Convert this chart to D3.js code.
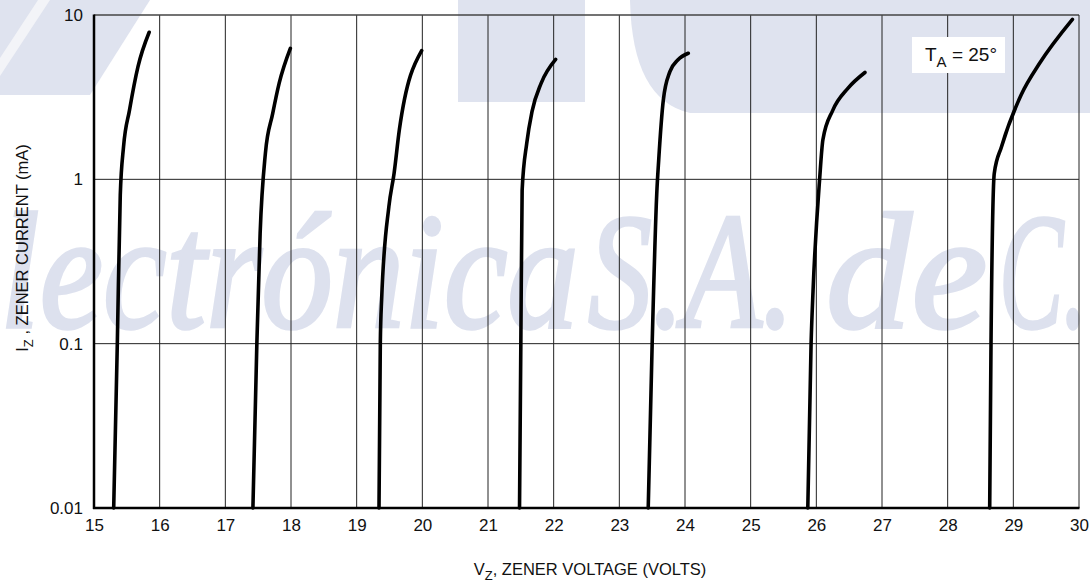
<!DOCTYPE html>
<html>
<head>
<meta charset="utf-8">
<script src="https://cdn.jsdelivr.net/npm/d3@7"></script>
<style>
  html, body { margin: 0; padding: 0; background: #fff; }
  svg { display: block; }
  text { font-family: "Liberation Sans", Arial, sans-serif; fill: #111; }
</style>
</head>
<body>
<svg id="chart" width="1090" height="584"></svg>
<script>
// ---- data ----
const xTicks = [15, 16, 17, 18, 19, 20, 21, 22, 23, 24, 25, 26, 27, 28, 29, 30];
const yTicks = [0.01, 0.1, 1, 10];
const yTickLabels = ["0.01", "0.1", "1", "10"];

const vz15 = [15.30, 15.355, 15.40, 15.45, 15.54, 15.67, 15.84];
const iz15 = [0.01, 0.1, 0.80, 1.58, 2.63, 4.85, 7.85];
const vz18 = [17.42, 17.48, 17.53, 17.61, 17.72, 17.82, 17.99];
const iz18 = [0.01, 0.1, 0.47, 1.44, 2.5, 3.85, 6.27];
const vz20 = [19.34, 19.36, 19.38, 19.49, 19.57, 19.65, 19.99];
const iz20 = [0.01, 0.1, 0.185, 0.68, 1.09, 2.0, 6.07];
const vz22 = [21.48, 21.50, 21.52, 21.59, 21.67, 21.81, 22.03];
const iz22 = [0.01, 0.1, 0.86, 1.66, 2.58, 3.85, 5.37];
const vz24 = [23.44, 23.50, 23.57, 23.60, 23.67, 23.77, 23.89, 24.05];
const iz24 = [0.01, 0.1, 0.82, 1.32, 3.04, 4.52, 5.32, 5.85];
const vz27 = [25.87, 25.92, 25.95, 26.05, 26.10, 26.25, 26.48, 26.74];
const iz27 = [0.01, 0.1, 0.21, 1.0, 1.74, 2.63, 3.58, 4.47];
const vz30 = [28.64, 28.66, 28.71, 28.82, 29.12, 29.40, 29.90];
const iz30 = [0.01, 0.1, 1.09, 1.58, 3.27, 5.08, 9.4];

const curves = [[vz15, iz15], [vz18, iz18], [vz20, iz20], [vz22, iz22], [vz24, iz24], [vz27, iz27], [vz30, iz30]]
  .map(([v, i]) => v.map((d, k) => ({ v: d, i: i[k] })));

const watermarkWords = ["lectrónica", "S.A.", "de", "C."];
const annotation = { main: "T", sub: "A", rest: " = 25°" };

// ---- layout ----
const svg = d3.select("#chart");
const W = 1090, H = 584;
const m = { left: 94, right: 11, top: 15, bottom: 76 };
const x = d3.scaleLinear().domain([15, 30]).range([m.left, W - m.right]);
const y = d3.scaleLog().domain([0.01, 10]).range([H - m.bottom, m.top]);

// ---- background watermark ----
const wm = svg.append("g").attr("fill", "#dfe3ef");
wm.append("path").attr("d", "M0,0 L150,0 L90,95 L0,95 Z");
wm.append("path").attr("d", "M0,58 L38,0 L50,0 L0,76 Z").attr("fill", "#f3f4f8");
wm.append("rect").attr("x", 458).attr("y", 0).attr("width", 127).attr("height", 102);
wm.append("path").attr("d", "M630,0 L1090,0 L1090,113 L690,113 Q632,100 630,0 Z");

// word placement: [left x, horizontal squeeze]
const wmPos = [[0, 0.86], [588, 0.77], [826, 1.03], [999, 0.58]];
const wmText = svg.append("g");
watermarkWords.forEach((w, k) => {
  wmText.append("text")
    .attr("transform", `translate(${wmPos[k][0]},327) scale(${wmPos[k][1]},1)`)
    .attr("font-size", 166)
    .style("font-family", "'Liberation Serif', 'Times New Roman', serif")
    .style("font-style", "italic")
    .style("fill", "#dde1ee")
    .style("stroke", "#dde1ee")
    .style("stroke-width", 3.5)
    .text(w);
});

// ---- grid ----
const grid = svg.append("g");
grid.selectAll("line.v").data(xTicks.slice(1, -1)).join("line")
  .attr("x1", d => x(d)).attr("x2", d => x(d))
  .attr("y1", y(10)).attr("y2", y(0.01))
  .attr("stroke", "#222").attr("stroke-width", 1);
grid.selectAll("line.h").data([0.1, 1]).join("line")
  .attr("x1", x(15)).attr("x2", x(30))
  .attr("y1", d => y(d)).attr("y2", d => y(d))
  .attr("stroke", "#222").attr("stroke-width", 1);
grid.append("line").attr("x1", x(15)).attr("x2", x(30)).attr("y1", y(10)).attr("y2", y(10))
  .attr("stroke", "#444").attr("stroke-width", 1.3);
grid.append("line").attr("x1", x(30)).attr("x2", x(30)).attr("y1", y(10)).attr("y2", y(0.01))
  .attr("stroke", "#222").attr("stroke-width", 1);

// ---- annotation box ----
const ann = svg.append("g");
ann.append("rect").attr("x", 912).attr("y", 37).attr("width", 93).attr("height", 36).attr("fill", "#fff");
const at = ann.append("text").attr("x", 925).attr("y", 61).attr("font-size", 19);
at.append("tspan").text(annotation.main);
at.append("tspan").attr("dy", 6).attr("font-size", 15).text(annotation.sub);
at.append("tspan").attr("dy", -6).text(annotation.rest);

// ---- curves ----
const line = d3.line().x(d => x(d.v)).y(d => y(d.i)).curve(d3.curveMonotoneX);
svg.append("g").selectAll("path").data(curves).join("path")
  .attr("d", line).attr("fill", "none").attr("stroke", "#000")
  .attr("stroke-width", 3.6).attr("stroke-linecap", "round").attr("stroke-linejoin", "round");

// ---- axes ----
const xAxis = svg.append("g").attr("transform", `translate(0,${y(0.01)})`)
  .call(d3.axisBottom(x).tickValues(xTicks).tickFormat(d3.format("d")).tickSize(0).tickPadding(11));
xAxis.select(".domain").remove();
xAxis.selectAll("text").attr("font-size", 17).attr("font-family", "'Liberation Sans', Arial, sans-serif").attr("fill", "#111");

const yAxis = svg.append("g").attr("transform", `translate(${x(15)},0)`)
  .call(d3.axisLeft(y).tickValues(yTicks).tickFormat((d, k) => yTickLabels[k]).tickSize(0).tickPadding(11));
yAxis.select(".domain").remove();
yAxis.selectAll("text").attr("font-size", 17).attr("font-family", "'Liberation Sans', Arial, sans-serif").attr("fill", "#111");

svg.append("line").attr("x1", x(15)).attr("x2", x(15)).attr("y1", y(10) - 0.5).attr("y2", y(0.01) + 1)
  .attr("stroke", "#000").attr("stroke-width", 2.5);
svg.append("line").attr("x1", x(15) - 1).attr("x2", x(30) + 0.5).attr("y1", y(0.01)).attr("y2", y(0.01))
  .attr("stroke", "#000").attr("stroke-width", 2.5);

// ---- axis titles ----
const xt = svg.append("text").attr("x", 590).attr("y", 575).attr("text-anchor", "middle").attr("font-size", 16.5);
xt.append("tspan").text("V");
xt.append("tspan").attr("dy", 5).attr("font-size", 13).text("Z");
xt.append("tspan").attr("dy", -5).text(", ZENER VOLTAGE (VOLTS)");

const yt = svg.append("text").attr("transform", "translate(28,248) rotate(-90)")
  .attr("text-anchor", "middle").attr("font-size", 16.5);
yt.append("tspan").text("I");
yt.append("tspan").attr("dy", 5).attr("font-size", 13).text("Z");
yt.append("tspan").attr("dy", -5).text(" , ZENER CURRENT (mA)");
</script>
</body>
</html>
